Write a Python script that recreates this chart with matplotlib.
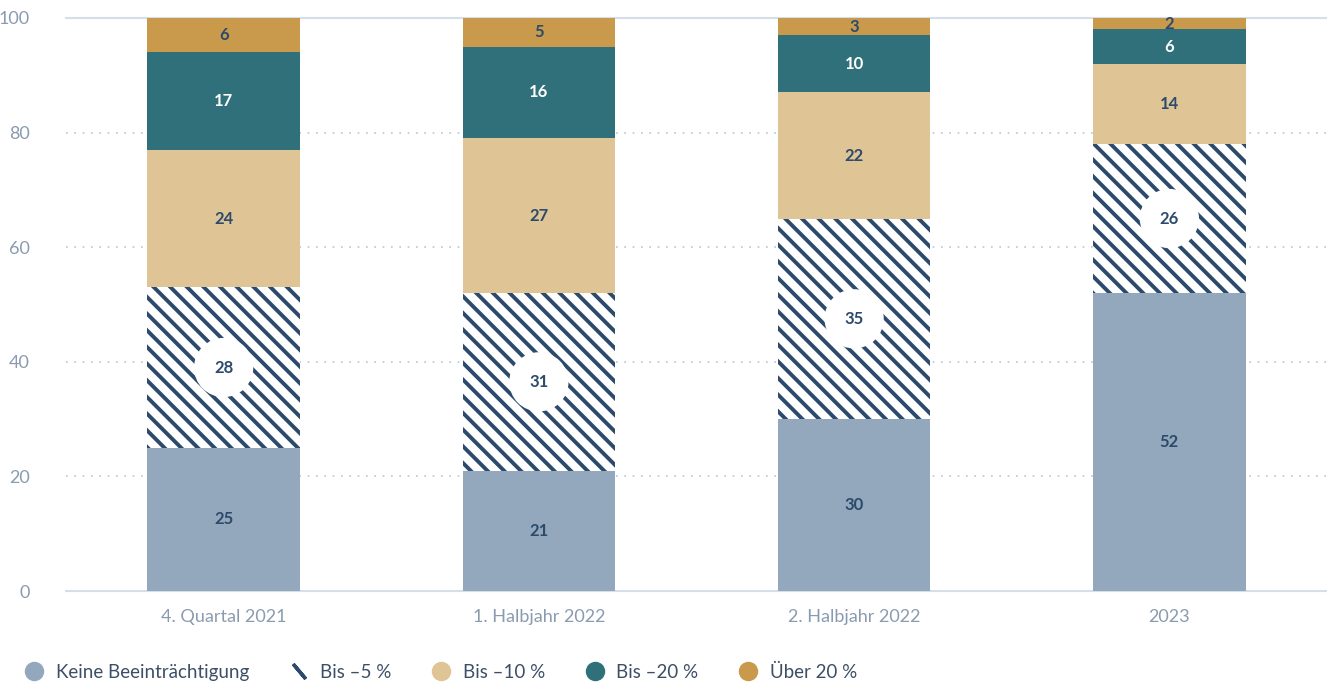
import matplotlib
matplotlib.use("Agg")
import matplotlib.pyplot as plt
from matplotlib.lines import Line2D
import numpy as np

categories = ["4. Quartal 2021", "1. Halbjahr 2022", "2. Halbjahr 2022", "2023"]
series_names = ["Keine Beeinträchtigung", "Bis \u20135 %", "Bis \u201310 %", "Bis \u201320 %", "Über 20 %"]
keine = [25, 21, 30, 52]
bis5 = [28, 31, 35, 26]
bis10 = [24, 27, 22, 14]
bis20 = [17, 16, 10, 6]
ueber20 = [6, 5, 3, 2]
yticks = [0, 20, 40, 60, 80, 100]

colors = ["#93a8bc", "#ffffff", "#dfc495", "#30707a", "#c99a4c"]
navy = "#2c4a6b"
label_colors = [navy, navy, navy, "white", navy]
tick_color = "#8a9bb0"

plt.rcParams['font.family'] = ['Lato', 'DejaVu Sans']
plt.rcParams['hatch.linewidth'] = 2.8
plt.rcParams['hatch.color'] = navy

fig = plt.figure(figsize=(13.27, 6.84), dpi=100)
ax = fig.add_axes([66/1327, 1-591/684, 1-66/1327, (591-18)/684])

x = np.arange(len(categories))
width = 0.483
data = [keine, bis5, bis10, bis20, ueber20]
bottom = np.zeros(len(categories))
for i, vals in enumerate(data):
    vals = np.array(vals, dtype=float)
    if i == 1:
        ax.bar(x, vals, width, bottom=bottom, facecolor="white", edgecolor=navy,
               hatch="\\\\", linewidth=0, zorder=2)
    else:
        ax.bar(x, vals, width, bottom=bottom, color=colors[i], linewidth=0, zorder=2)
    for xi, v, b in zip(x, vals, bottom):
        kw = {}
        if i == 1:
            kw["bbox"] = dict(boxstyle="circle,pad=1.2", facecolor="white", edgecolor="none")
        ax.text(xi, b + v / 2, f"{int(v)}", ha="center", va="center",
                fontsize=12, fontweight="bold", color=label_colors[i], zorder=4, **kw)
    bottom += vals

ax.set_xlim(-0.5, len(categories) - 0.5)
ax.set_ylim(0, 100)
ax.set_yticks(yticks)
ax.set_xticks(x)
ax.set_xticklabels(categories)
for s in ax.spines.values():
    s.set_visible(False)
ax.tick_params(axis="both", length=0, labelcolor=tick_color, labelsize=13)
ax.tick_params(axis="y", pad=26)
ax.tick_params(axis="x", pad=13)

for yv in yticks:
    if yv in (0, 100):
        ax.axhline(yv, color="#d5dfea", lw=1.5, zorder=1, clip_on=False)
    else:
        ax.axhline(yv, color="#b9c6d4", lw=1.2, ls=(0, (1, 4)), zorder=1)

handles = [
    Line2D([], [], marker="o", ls="none", markersize=14, markerfacecolor=colors[0], markeredgecolor="none"),
    Line2D([], [], marker=(2, 2, 40), ls="none", markersize=14, markeredgecolor=navy, markeredgewidth=2.5),
    Line2D([], [], marker="o", ls="none", markersize=14, markerfacecolor=colors[2], markeredgecolor="none"),
    Line2D([], [], marker="o", ls="none", markersize=14, markerfacecolor=colors[3], markeredgecolor="none"),
    Line2D([], [], marker="o", ls="none", markersize=14, markerfacecolor=colors[4], markeredgecolor="none"),
]
leg = fig.legend(handles, series_names, loc="center left", bbox_to_anchor=(23/1327, 1-672/684),
                 ncol=5, frameon=False, fontsize=13.5, handletextpad=0.55, columnspacing=2.05,
                 handlelength=1.2, borderaxespad=0, borderpad=0)
for t in leg.get_texts():
    t.set_color("#3d4f66")

fig.savefig("out.png", dpi=100)
